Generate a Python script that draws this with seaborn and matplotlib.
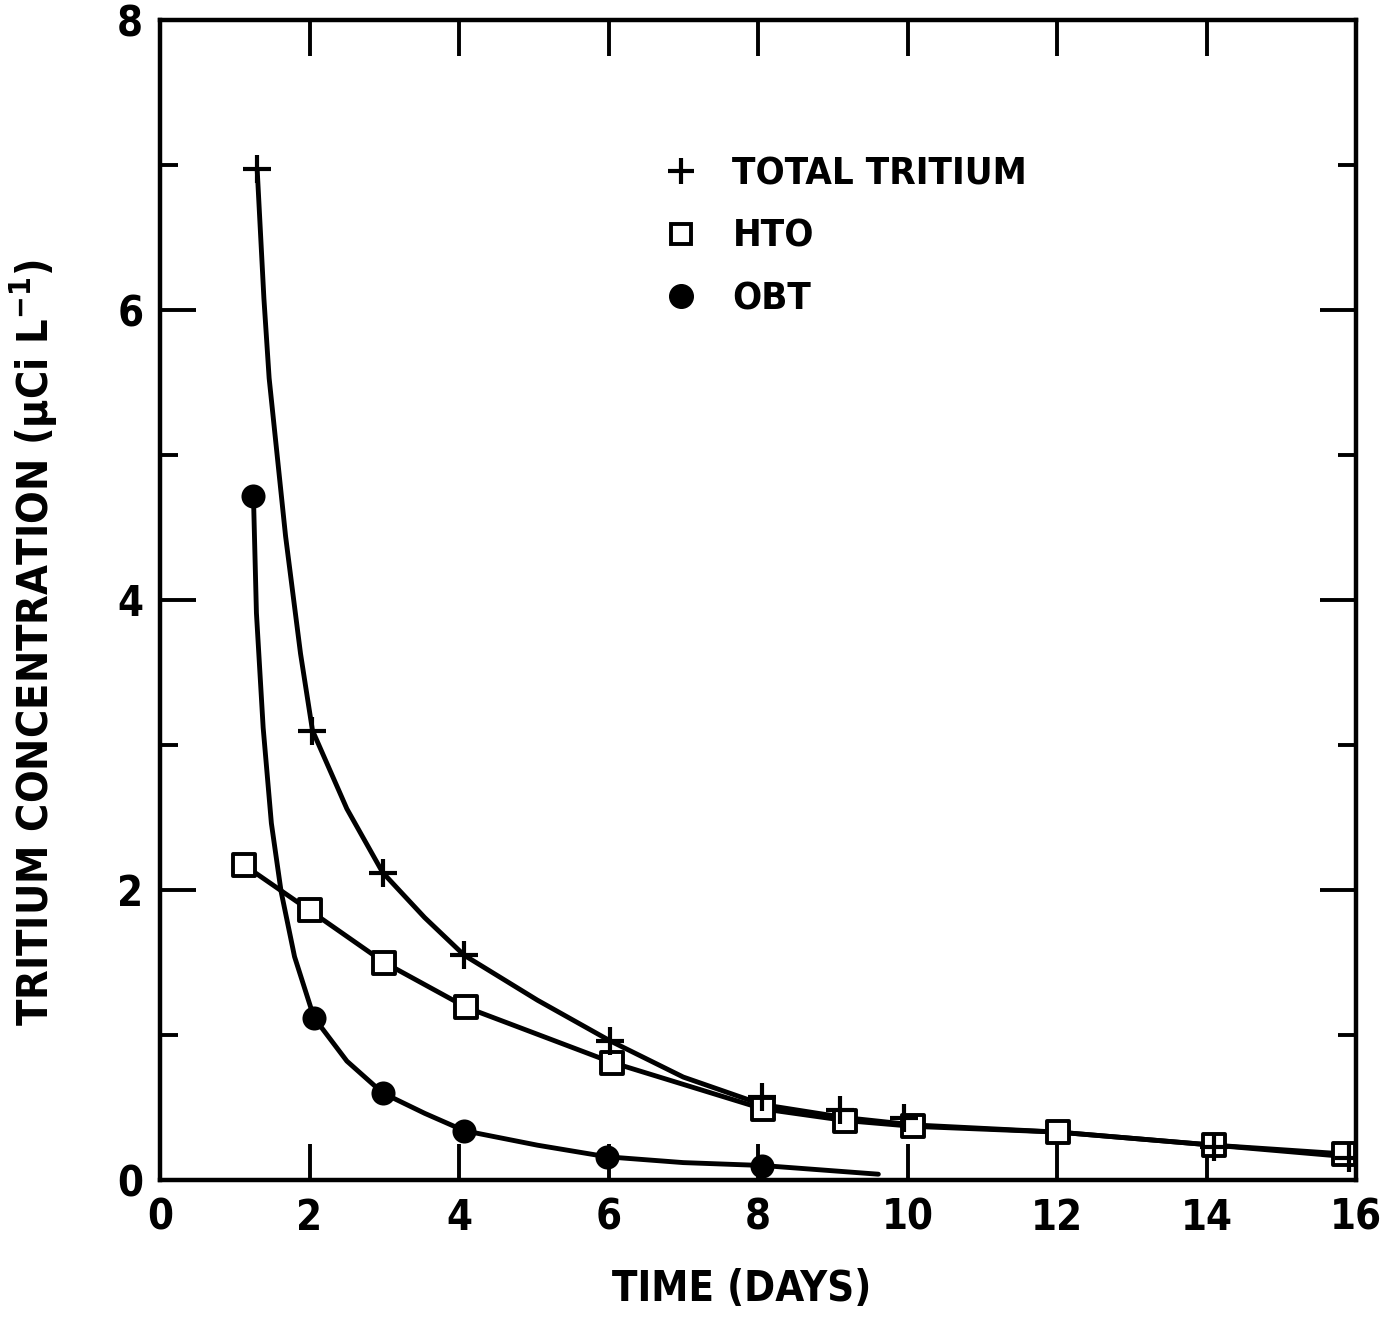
import matplotlib
matplotlib.use("Agg")
import matplotlib.pyplot as plt
from matplotlib.lines import Line2D
import seaborn as sns

# set plot theme
sns.set_style("ticks")
plt.rcParams['font.family'] = ['DejaVu Sans']
plt.rcParams['font.stretch'] = 'condensed'
plt.rcParams['font.weight'] = 'bold'
plt.rcParams['mathtext.default'] = 'regular'
for k in ['text.color', 'axes.labelcolor', 'xtick.color', 'ytick.color', 'axes.edgecolor']:
    plt.rcParams[k] = 'black'

# measured points (days, uCi/L)
total_days = [1.3, 2.04, 2.98, 4.07, 6.02, 8.06, 9.1, 9.95, 14.1, 15.9]
total_conc = [6.97, 3.10, 2.12, 1.55, 0.96, 0.57, 0.48, 0.43, 0.23, 0.15]

hto_days = [1.13, 2.0, 3.0, 4.1, 6.05, 8.07, 9.17, 10.08, 12.02, 14.1, 15.84]
hto_conc = [2.17, 1.86, 1.50, 1.19, 0.81, 0.49, 0.41, 0.37, 0.33, 0.24, 0.18]

obt_days = [1.25, 2.06, 2.98, 4.07, 5.98, 8.06]
obt_conc = [4.72, 1.12, 0.60, 0.34, 0.16, 0.10]

# hand-drawn fitted curves
total_curve_x = [1.3, 1.39, 1.46, 1.68, 1.88, 2.04, 2.5, 2.98, 3.54, 4.07, 5.05,
                 6.02, 7.0, 8.06, 9.17, 10.08, 12.02, 14.1, 15.9]
total_curve_y = [6.97, 6.08, 5.53, 4.44, 3.63, 3.10, 2.56, 2.12, 1.81, 1.55, 1.24,
                 0.96, 0.71, 0.52, 0.43, 0.38, 0.33, 0.24, 0.16]

obt_curve_x = [1.25, 1.29, 1.38, 1.49, 1.62, 1.80, 2.06, 2.5, 2.98, 3.54, 4.07,
               5.05, 5.98, 7.0, 8.06, 9.61]
obt_curve_y = [4.72, 3.91, 3.12, 2.46, 1.99, 1.54, 1.12, 0.82, 0.60, 0.46, 0.34,
               0.24, 0.16, 0.12, 0.10, 0.04]

legend_labels = ["TOTAL TRITIUM", "HTO", "OBT"]

LW = 3.5

fig = plt.figure(figsize=(13.85, 13.17), dpi=100)
ax = fig.add_axes([160 / 1385, 1 - 1180 / 1317, 1196 / 1385, 1160 / 1317])

# curves
sns.lineplot(x=total_curve_x, y=total_curve_y, ax=ax, color="black", lw=LW,
             sort=False, estimator=None)
sns.lineplot(x=hto_days, y=hto_conc, ax=ax, color="black", lw=LW,
             sort=False, estimator=None)
sns.lineplot(x=obt_curve_x, y=obt_curve_y, ax=ax, color="black", lw=LW,
             sort=False, estimator=None)

# points
sns.scatterplot(x=hto_days, y=hto_conc, ax=ax, marker="s", s=230,
                color="white", edgecolor="black", linewidth=2.8, zorder=3)
sns.scatterplot(x=obt_days, y=obt_conc, ax=ax, marker="o", s=300,
                color="black", edgecolor="black", linewidth=0, zorder=3)
sns.scatterplot(x=total_days, y=total_conc, ax=ax, marker="+", s=380,
                color="black", linewidth=3, zorder=4)

ax.set_xlim(0, 16)
ax.set_ylim(0, 8)
ax.set_xticks(range(0, 17, 2))
ax.set_yticks(range(0, 9, 2))
ax.set_yticks(range(1, 9, 2), minor=True)
ax.tick_params(which="major", direction="in", length=26, width=2.8,
               top=True, right=True, labelsize=30, pad=12)
ax.tick_params(which="minor", direction="in", length=13, width=2.8,
               left=True, right=True)
for s in ax.spines.values():
    s.set_linewidth(3.2)

ax.set_xlabel("TIME (DAYS)", fontsize=30, fontweight="bold")
ax.xaxis.set_label_coords(0.486, -0.076)
ax.set_ylabel("TRITIUM CONCENTRATION (\u03bcCi L$^{-1}$)", fontsize=31,
              fontweight="bold")
ax.yaxis.set_label_coords(-0.084, 0.463)

handles = [
    Line2D([], [], ls="none", marker="+", ms=19, mew=3, color="black"),
    Line2D([], [], ls="none", marker="s", ms=14, mew=2.8, mfc="white", mec="black"),
    Line2D([], [], ls="none", marker="o", ms=17, color="black"),
]
ax.legend(handles, legend_labels, loc="upper left", bbox_to_anchor=(0.41, 0.899),
          frameon=False, fontsize=27.5, handlelength=0.6, handletextpad=1.05,
          labelspacing=0.7, borderpad=0)

fig.savefig("out.png", dpi=100)
